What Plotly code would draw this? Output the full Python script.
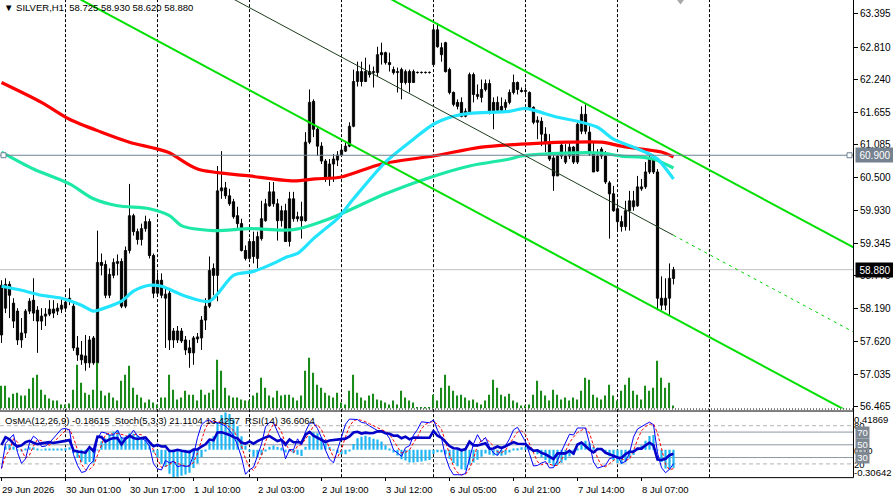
import pandas as pd
import plotly.graph_objects as go

# ------------------------------------------------------------------ data
bars = list(range(169))

opens = [
    58.605, 58.201, 58.622, 58.289, 58.149, 57.640, 57.763, 58.149, 58.342, 58.166,
    57.973, 58.061, 58.096, 58.184, 58.149, 58.184, 58.201, 58.324, 58.236, 57.500,
    57.376, 57.359, 57.236, 57.675, 57.236, 59.008, 58.973, 58.429, 58.780, 58.991,
    59.026, 58.236, 59.219, 59.833, 59.552, 59.412, 59.605, 59.728, 59.131, 58.465,
    58.693, 58.377, 58.465, 57.798, 57.640, 57.798, 57.640, 57.500, 57.412, 57.658,
    57.675, 57.991, 58.236, 58.903, 58.780, 60.272, 60.324, 60.184, 60.079, 59.833,
    59.693, 59.219, 59.079, 59.377, 59.079, 59.429, 59.745, 60.008, 60.254, 60.044,
    59.745, 59.921, 59.377, 60.131, 59.815, 59.815, 59.745, 61.131, 61.850, 61.359,
    61.061, 60.798, 60.482, 60.745, 60.815, 60.903, 60.973, 61.061, 61.412, 62.201,
    62.377, 62.201, 62.377, 62.359, 62.359, 62.710, 62.710, 62.535, 62.412, 62.359,
    62.412, 62.184, 62.377, 62.184, 62.359, 62.359, 62.359, 62.359, 62.500, 63.114,
    62.798, 62.886, 62.412, 62.008, 61.833, 61.833, 61.587, 61.658, 62.324, 61.938,
    61.921, 62.061, 62.166, 61.833, 61.693, 61.763, 61.745, 61.833, 62.008, 62.184,
    62.044, 62.026, 62.008, 61.745, 61.482, 61.500, 61.272, 61.131, 60.851, 60.535,
    61.079, 60.780, 60.886, 61.043, 60.780, 61.324, 61.622, 61.307, 60.921, 60.622,
    61.008, 60.886, 60.412, 60.219, 59.956, 59.728, 59.640, 59.921, 59.991, 60.008,
    60.307, 60.342, 60.605, 60.833, 60.605, 58.377, 58.254, 58.377, 58.725]

highs = [
    58.693, 58.728, 58.675, 58.377, 58.201, 58.026, 58.184, 58.377, 58.728, 58.236,
    58.201, 58.201, 58.342, 58.342, 58.289, 58.377, 58.377, 58.552, 58.324, 57.710,
    57.622, 57.728, 57.710, 57.710, 59.570, 59.166, 59.043, 58.903, 59.079, 59.149,
    59.079, 59.289, 60.394, 59.868, 59.605, 59.693, 59.833, 59.780, 59.166, 58.833,
    58.815, 58.587, 58.517, 57.851, 57.886, 57.851, 57.710, 57.640, 57.710, 57.763,
    58.061, 58.377, 59.114, 58.991, 60.710, 60.973, 60.429, 60.307, 60.131, 59.991,
    59.780, 59.307, 59.429, 59.552, 59.552, 60.096, 60.131, 60.429, 60.429, 60.131,
    60.008, 60.044, 60.254, 60.254, 59.903, 60.079, 61.307, 62.061, 61.886, 61.412,
    61.131, 60.833, 60.833, 60.921, 60.973, 61.096, 61.131, 61.482, 62.412, 62.552,
    62.552, 62.622, 62.500, 62.465, 62.815, 62.886, 62.728, 62.710, 62.465, 62.447,
    62.447, 62.412, 62.412, 62.412, 62.377, 62.377, 62.377, 62.377, 63.166, 63.236,
    62.886, 62.903, 62.447, 62.026, 61.886, 61.921, 61.728, 62.359, 62.359, 62.149,
    62.236, 62.236, 62.236, 61.921, 61.938, 61.921, 61.886, 62.061, 62.324, 62.201,
    62.096, 62.096, 62.026, 61.763, 61.587, 61.570, 61.394, 61.272, 60.921, 60.956,
    61.149, 61.096, 61.131, 61.061, 61.500, 61.763, 61.798, 61.412, 61.131, 61.008,
    61.043, 60.973, 60.447, 60.359, 60.079, 59.833, 60.096, 60.272, 60.272, 60.535,
    60.482, 60.780, 60.921, 60.886, 60.657, 58.763, 58.728, 58.991, 58.930]

lows = [
    57.587, 58.114, 58.026, 57.851, 57.552, 57.500, 57.675, 58.096, 57.973, 57.412,
    57.815, 57.886, 58.061, 58.026, 58.079, 58.114, 58.166, 58.254, 57.447, 57.271,
    57.201, 57.096, 57.149, 57.201, 57.201, 58.780, 58.377, 58.377, 58.728, 58.780,
    58.201, 58.201, 59.166, 59.482, 59.324, 59.307, 59.552, 59.079, 58.377, 58.412,
    58.377, 57.500, 57.464, 57.500, 57.587, 57.587, 57.376, 57.149, 57.201, 57.587,
    57.464, 57.815, 58.201, 58.429, 58.324, 60.131, 60.131, 60.008, 59.780, 59.605,
    59.201, 59.043, 59.079, 58.991, 58.903, 59.394, 59.728, 59.991, 59.991, 59.394,
    59.640, 59.377, 59.289, 59.728, 59.728, 59.429, 59.728, 61.096, 61.219, 60.886,
    60.745, 60.429, 60.359, 60.429, 60.710, 60.886, 60.956, 61.043, 61.394, 62.114,
    62.114, 62.201, 62.272, 62.096, 62.289, 62.500, 62.500, 62.377, 62.324, 62.008,
    61.886, 62.149, 62.008, 62.184, 62.342, 62.342, 62.342, 62.342, 62.500, 62.798,
    62.552, 62.359, 61.973, 61.763, 61.710, 61.570, 61.570, 61.658, 61.833, 61.886,
    61.833, 62.026, 61.622, 61.359, 61.658, 61.658, 61.658, 61.798, 61.973, 61.973,
    62.008, 61.973, 61.710, 61.447, 61.184, 61.061, 60.956, 60.798, 60.272, 60.535,
    60.833, 60.745, 60.833, 60.745, 60.745, 61.272, 61.272, 60.886, 60.605, 60.605,
    60.833, 60.394, 59.429, 59.903, 59.570, 59.552, 59.570, 59.570, 59.921, 59.991,
    60.272, 60.307, 60.570, 60.570, 58.166, 58.166, 58.166, 58.079, 58.620]

closes = [
    57.728, 58.622, 58.429, 57.973, 57.640, 57.763, 58.149, 58.324, 58.114, 57.973,
    58.061, 58.096, 58.184, 58.114, 58.201, 58.254, 58.307, 58.377, 57.500, 57.376,
    57.289, 57.236, 57.640, 57.236, 59.008, 58.956, 58.429, 58.798, 59.008, 59.026,
    58.236, 59.219, 59.833, 59.552, 59.412, 59.605, 59.728, 59.131, 58.465, 58.693,
    58.429, 58.447, 57.640, 57.640, 57.798, 57.622, 57.464, 57.412, 57.675, 57.693,
    57.991, 58.236, 58.868, 58.780, 60.272, 60.324, 60.184, 60.044, 59.815, 59.693,
    59.219, 59.079, 59.377, 59.114, 59.465, 59.780, 60.044, 60.254, 60.044, 59.745,
    59.921, 59.377, 60.131, 59.780, 59.780, 59.745, 61.131, 61.833, 61.359, 61.061,
    60.798, 60.482, 60.745, 60.833, 60.903, 60.991, 61.061, 61.412, 62.201, 62.377,
    62.201, 62.377, 62.324, 62.377, 62.675, 62.675, 62.535, 62.500, 62.359, 62.377,
    62.184, 62.377, 62.184, 62.377, 62.359, 62.359, 62.359, 62.359, 63.114, 62.815,
    62.675, 62.377, 62.008, 61.798, 61.763, 61.587, 61.675, 62.324, 61.973, 61.973,
    62.061, 62.166, 61.658, 61.675, 61.833, 61.693, 61.833, 62.008, 62.184, 62.061,
    62.026, 62.044, 61.745, 61.482, 61.517, 61.272, 61.131, 60.833, 60.535, 60.886,
    60.886, 60.886, 61.043, 60.780, 61.447, 61.622, 61.324, 60.921, 60.605, 60.886,
    60.886, 60.429, 60.219, 59.921, 59.728, 59.640, 59.921, 60.096, 60.096, 60.342,
    60.342, 60.605, 60.833, 60.605, 58.377, 58.254, 58.377, 58.728, 58.880]

# tick volume (hundreds of ticks)
volumes = [
    23, 23, 11, 15, 16, 13, 13, 20, 31, 34, 19, 14, 10, 8, 8, 4, 4, 5, 19, 44,
    26, 16, 14, 19, 46, 18, 13, 16, 11, 8, 28, 34, 43, 21, 14, 11, 6, 9, 6, 4,
    11, 11, 34,
    19, 9, 11, 18, 14, 14, 8, 19, 14, 16, 19, 49, 38, 21, 13, 11, 11, 9, 8, 8,
    13, 16, 31, 21, 13, 11, 18, 13, 14, 14, 11, 8, 13, 38, 51, 36, 24, 21, 16, 13,
    11, 16,
    6, 4, 18, 34, 16, 11, 8, 13, 15, 9, 8, 6, 4, 8, 4, 18, 11, 8, 6, 1,
    1, 1, 1, 14, 8, 21, 34, 23, 18, 13, 14, 11, 8, 9, 6, 4, 8, 14, 29, 21,
    14, 12, 15,
    8, 6, 3, 3, 4, 14, 28, 18, 13, 8, 19, 14, 9, 11, 8, 11, 9, 18, 31, 29,
    14, 11, 9, 13, 24, 13, 8, 18, 24, 31, 18, 14, 9, 23, 18, 21, 48, 31, 21, 26,
    3]

date_label_bars = [0, 16, 32, 48, 64, 80, 96, 112, 128, 144, 160]
date_labels = ["29 Jun 2026", "30 Jun 01:00", "30 Jun 17:00", "1 Jul 10:00",
               "2 Jul 03:00", "2 Jul 19:00", "3 Jul 12:00", "6 Jul 05:00",
               "6 Jul 21:00", "7 Jul 14:00", "8 Jul 07:00"]
grid_bars = [16, 39, 62, 85, 108, 131, 154, 177]

price_ticks = [63.395, 62.810, 62.240, 61.655, 61.085, 60.500, 59.930,
               59.345, 58.775, 58.190, 57.620, 57.035, 56.465]

# moving averages (sampled)
ma_red_bars = [0, 10, 17, 25, 32, 41.5, 49, 62, 73, 78.5, 85, 95, 108, 120, 135,
               141.5, 150, 155, 160, 165, 168]
ma_red_vals = [62.184, 61.833, 61.535, 61.307, 61.131, 60.956, 60.657, 60.535,
               60.447, 60.482, 60.517, 60.745, 60.886, 61.043, 61.114, 61.131,
               61.131, 61.061, 61.008, 60.956, 60.868]
ma_aqua_bars = [0, 8, 17, 23, 29, 37, 42, 45, 53, 62, 73, 82, 96, 106, 117, 127,
                130, 141, 150, 155, 160, 163, 168]
ma_aqua_vals = [60.956, 60.657, 60.394, 60.131, 60.008, 59.956, 59.833, 59.658,
                59.570, 59.605, 59.587, 59.780, 60.219, 60.482, 60.710, 60.833,
                60.886, 60.938, 60.938, 60.886, 60.868, 60.833, 60.675]
ma_cyan_bars = [0, 5, 10, 15, 20, 23, 25, 30, 33, 37, 40, 46, 52, 58, 63, 68, 71,
                74, 78, 81, 84, 88, 96, 103, 108, 113, 117, 127, 131, 134, 139,
                144, 149, 153, 158, 162, 164, 168]
ma_cyan_vals = [58.587, 58.517, 58.429, 58.377, 58.254, 58.149, 58.184, 58.324,
                58.500, 58.605, 58.587, 58.412, 58.324, 58.780, 58.850, 58.991,
                59.096, 59.166, 59.429, 59.605, 59.780, 60.131, 60.780, 61.184,
                61.447, 61.587, 61.640, 61.675, 61.728, 61.675, 61.570, 61.500,
                61.394, 61.184, 61.043, 60.921, 60.833, 60.482]

# channel objects (bar, price)
chan_upper_bars, chan_upper_vals = [90, 213], [63.935, 59.272]
chan_lower_bars, chan_lower_vals = [10, 213], [64.019, 56.324]
chan_mid_bars, chan_mid_vals = [50, 168], [63.959, 59.487]
chan_mid_ext_bars, chan_mid_ext_vals = [168, 213], [59.487, 57.780]

hline_level = 60.900
hline_anchor_bars = [0.5, 212.0]
bid_price = 58.880
shift_marker_bar = 169.75

osma_top, osma_bottom = 0.41869, -0.30642
ind_levels_solid = [70, 50, 30]
ind_levels_dash = [80, 20]

title_text = "\u25bc SILVER,H1  58.725 58.930 58.620 58.880"
ind_text = "OsMA(12,26,9) -0.18615  Stoch(5,3,3) 21.1104 13.4257  RSI(14) 36.6064"

# ------------------------------------------------------------------ indicators from prices
c = pd.Series(closes)
h = pd.Series(highs)
l = pd.Series(lows)
ema12 = c.ewm(span=12, adjust=False).mean()
ema26 = c.ewm(span=26, adjust=False).mean()
macd = ema12 - ema26
signal = macd.rolling(9, min_periods=1).mean()
osma = macd - signal

hh = h.rolling(5, min_periods=1).max()
ll = l.rolling(5, min_periods=1).min()
stoch_k = 100 * (c - ll).rolling(3, min_periods=1).sum() / (hh - ll).rolling(3, min_periods=1).sum()
stoch_d = stoch_k.rolling(3, min_periods=1).mean()

delta = c.diff().fillna(0)
seed = delta.abs().iloc[1:15].mean() / 2
ag = al = seed
rsi = []
for dv in delta:
    ag = (ag * 13 + max(dv, 0)) / 14
    al = (al * 13 + max(-dv, 0)) / 14
    rsi.append(100 * ag / (ag + al))

# ------------------------------------------------------------------ geometry
W, H = 893, 502
XR = 853


def fy(px):
    return 1 - px / H


def fx(px):
    return px / W


FONT = "Liberation Sans"
X_RANGE = [-0.375, 212.875]
MAIN_RANGE = [56.4295, 63.64]

# indicator window auto-scaled to the visible OsMA extremes (as the terminal does)
o_min, o_max = float(osma.min()), float(osma.max())
o_span = o_max - o_min
OSMA_RANGE = [o_min, o_max + o_span * 2 / 65]

fig = go.Figure()

# candles: wicks
wx, wy = [], []
for i in bars:
    wx += [i, i, None]
    wy += [lows[i], highs[i], None]
fig.add_trace(go.Scatter(x=wx, y=wy, mode="lines", line=dict(color="black", width=1),
                         hoverinfo="skip", yaxis="y"))

for up in (True, False):
    idx = [i for i in bars if (closes[i] >= opens[i]) == up]
    fig.add_trace(go.Bar(
        x=idx,
        base=[min(opens[i], closes[i]) for i in idx],
        y=[max(abs(closes[i] - opens[i]), 0.004) for i in idx],
        width=0.55,
        marker=dict(color="white" if up else "black", line=dict(color="black", width=1)),
        yaxis="y", hoverinfo="skip"))

# volume
fig.add_trace(go.Bar(x=bars, y=volumes, width=0.28, marker=dict(color="#1a8a1a", line=dict(width=0)),
                     yaxis="y4", hoverinfo="skip"))

# MAs
for xs, ys, col in [(ma_aqua_bars, ma_aqua_vals, "#1ee8a6"),
                    (ma_red_bars, ma_red_vals, "#ff0000"),
                    (ma_cyan_bars, ma_cyan_vals, "#22e4ff")]:
    fig.add_trace(go.Scatter(x=xs, y=ys, mode="lines",
                             line=dict(color=col, width=3.2, shape="spline", smoothing=0.8),
                             yaxis="y", hoverinfo="skip"))

# channel
fig.add_trace(go.Scatter(x=chan_upper_bars, y=chan_upper_vals, mode="lines",
                         line=dict(color="#00e000", width=2), yaxis="y", hoverinfo="skip"))
fig.add_trace(go.Scatter(x=chan_lower_bars, y=chan_lower_vals, mode="lines",
                         line=dict(color="#00e000", width=2), yaxis="y", hoverinfo="skip"))
fig.add_trace(go.Scatter(x=chan_mid_bars, y=chan_mid_vals, mode="lines",
                         line=dict(color="#1c3c1c", width=1), yaxis="y", hoverinfo="skip"))
fig.add_trace(go.Scatter(x=chan_mid_ext_bars, y=chan_mid_ext_vals, mode="lines",
                         line=dict(color="#00d000", width=1, dash="3px,4px"), yaxis="y", hoverinfo="skip"))

# horizontal line 60.900
fig.add_trace(go.Scatter(x=[X_RANGE[0], X_RANGE[1]], y=[hline_level, hline_level], mode="lines",
                         line=dict(color="#6f8294", width=1), yaxis="y", hoverinfo="skip"))
fig.add_trace(go.Scatter(x=hline_anchor_bars, y=[hline_level] * 2, mode="markers",
                         marker=dict(symbol="square", size=5, color="white",
                                     line=dict(color="#6f8294", width=1)),
                         yaxis="y", hoverinfo="skip"))
# shift marker
fig.add_trace(go.Scatter(x=[shift_marker_bar], y=[MAIN_RANGE[1]], mode="markers",
                         marker=dict(symbol="triangle-down", size=9, color="#a8a8a8"),
                         yaxis="y", hoverinfo="skip", cliponaxis=False))

# indicator window
fig.add_trace(go.Bar(x=bars, y=list(osma), width=0.55, marker=dict(color="#1db6f2", line=dict(width=0)),
                     yaxis="y2", hoverinfo="skip"))
fig.add_trace(go.Scatter(x=bars, y=list(stoch_d), mode="lines",
                         line=dict(color="#ff0000", width=1, dash="3px,2px"), yaxis="y3", hoverinfo="skip"))
fig.add_trace(go.Scatter(x=bars, y=list(stoch_k), mode="lines",
                         line=dict(color="#0000ff", width=1), yaxis="y3", hoverinfo="skip"))
fig.add_trace(go.Scatter(x=bars, y=rsi, mode="lines",
                         line=dict(color="#0000c8", width=2.6), yaxis="y3", hoverinfo="skip"))

shapes = []
# grid
for g in grid_bars:
    shapes.append(dict(type="line", xref="x", yref="paper", x0=g, x1=g, y0=fy(480), y1=1,
                       line=dict(color="black", width=1, dash="3px,2px"), layer="below"))
# bid line
shapes.append(dict(type="line", xref="paper", yref="y", x0=0, x1=fx(XR), y0=bid_price, y1=bid_price,
                   line=dict(color="#c0c0c0", width=1), layer="below"))
# indicator levels
for lv in ind_levels_solid:
    shapes.append(dict(type="line", xref="paper", yref="y3", x0=0, x1=fx(XR), y0=lv, y1=lv,
                       line=dict(color="#8c97a3", width=1), layer="below"))
for lv in ind_levels_dash:
    shapes.append(dict(type="line", xref="paper", yref="y3", x0=0, x1=fx(XR), y0=lv, y1=lv,
                       line=dict(color="#b4b4b4", width=1, dash="4px,3px"), layer="below"))
# frames
frame = dict(color="black", width=1)
shapes += [
    dict(type="line", xref="paper", yref="paper", x0=fx(XR + 0.5), x1=fx(XR + 0.5), y0=fy(480.5), y1=1, line=frame),
    dict(type="line", xref="paper", yref="paper", x0=0, x1=fx(XR + 0.5), y0=fy(411.5), y1=fy(411.5),
         line=dict(color="black", width=1, dash="1px,2px")),
    dict(type="line", xref="paper", yref="paper", x0=0, x1=fx(XR + 0.5), y0=fy(413.5), y1=fy(413.5), line=frame),
    dict(type="line", xref="paper", yref="paper", x0=0, x1=fx(XR + 0.5), y0=fy(480.5), y1=fy(480.5), line=frame),
]

ann = []
tf = dict(family=FONT, size=9.5, color="black")
ann.append(dict(xref="paper", yref="paper", x=fx(3), y=fy(8), xanchor="left", yanchor="middle",
                text=title_text, showarrow=False, font=tf, borderpad=0))
ann.append(dict(xref="paper", yref="paper", x=fx(4), y=fy(423), xanchor="left", yanchor="middle",
                text=ind_text, showarrow=False, font=tf, borderpad=0))
for b, t in zip(date_label_bars, date_labels):
    ann.append(dict(xref="x", yref="paper", x=b, y=fy(492), xanchor="left", yanchor="middle",
                    text=t, showarrow=False, font=tf, borderpad=0, xshift=-1))
# indicator right labels
ind_lbl = [(f"{osma_top:.5f}", 422), ("80", 428), ("20", 467), ("0.00", 453), (f"{osma_bottom:.5f}", 475)]
for t, ypx in ind_lbl:
    ann.append(dict(xref="paper", yref="paper", x=fx(853), y=fy(ypx), xanchor="left", yanchor="middle",
                    text=t, showarrow=False, font=tf, borderpad=0))
for lv in ind_levels_solid:
    ann.append(dict(xref="paper", yref="y3", x=fx(855), y=lv, xanchor="left", yanchor="middle",
                    text=str(lv), showarrow=False, font=dict(family=FONT, size=9.5, color="white"),
                    bgcolor="#7d8893", borderpad=1, width=11, height=9))
# price boxes
ann.append(dict(xref="paper", yref="y", x=fx(855), y=hline_level, xanchor="left", yanchor="middle",
                text=f"{hline_level:.3f}", showarrow=False, font=dict(family=FONT, size=10, color="white"),
                bgcolor="#75828f", borderpad=1.5, width=35, height=11))
ann.append(dict(xref="paper", yref="y", x=fx(855), y=bid_price, xanchor="left", yanchor="middle",
                text=f"{bid_price:.3f}", showarrow=False, font=dict(family=FONT, size=10, color="white"),
                bgcolor="black", borderpad=1.5, width=35, height=11))

fig.update_layout(
    width=W, height=H, margin=dict(l=0, r=0, t=0, b=0),
    paper_bgcolor="white", plot_bgcolor="white", showlegend=False, barmode="overlay",
    xaxis=dict(domain=[0, fx(XR)], range=X_RANGE, anchor="y2", showgrid=False, zeroline=False,
               showline=False, tickmode="array", tickvals=date_label_bars, ticks="outside",
               ticklen=3, tickcolor="black", showticklabels=False, fixedrange=True),
    yaxis=dict(domain=[fy(411), 1], range=MAIN_RANGE, side="right", anchor="x",
               tickmode="array", tickvals=price_ticks, ticktext=[f"{v:.3f}" for v in price_ticks],
               ticks="outside", ticklen=4, tickcolor="black",
               tickfont=dict(family=FONT, size=10, color="black"),
               showgrid=False, zeroline=False, showline=False, fixedrange=True),
    yaxis4=dict(overlaying="y", range=[0, 411], visible=False, anchor="x", fixedrange=True),
    yaxis2=dict(domain=[fy(480), fy(413)], range=OSMA_RANGE, visible=False, anchor="x",
                fixedrange=True),
    yaxis3=dict(overlaying="y2", range=[-0.77, 103.85], visible=False, anchor="x", fixedrange=True),
    shapes=shapes, annotations=ann,
)

fig.write_html("out.html", config={"displayModeBar": False})
